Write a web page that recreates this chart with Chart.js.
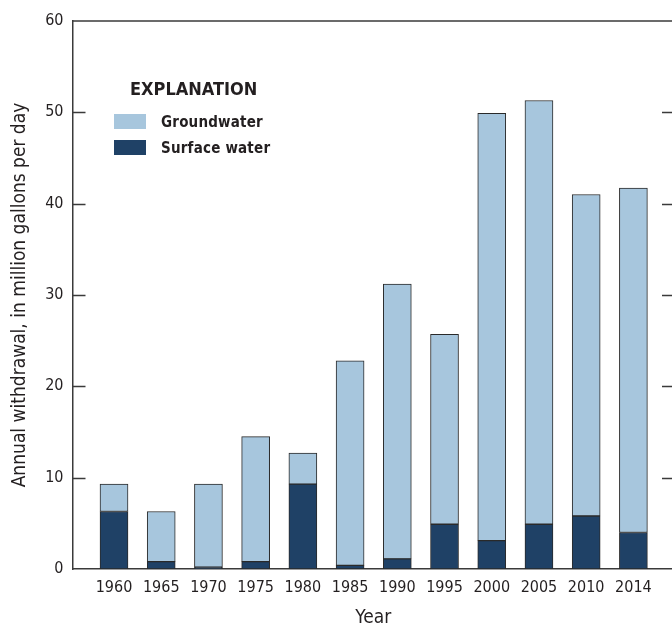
<!DOCTYPE html>
<html>
<head>
<meta charset="utf-8">
<script src="https://cdn.jsdelivr.net/npm/chart.js@4.4.1/dist/chart.umd.min.js"></script>
<style>
  html, body { margin: 0; padding: 0; background: #fff; overflow: hidden; }
  #wrap { position: relative; width: 672px; height: 626px; overflow: hidden; }
  #wrap canvas { position: absolute; left: 0; top: 0; }
</style>
</head>
<body>
<div id="wrap"><canvas id="c" width="674" height="626"></canvas></div>
<script>
const years = ['1960','1965','1970','1975','1980','1985','1990','1995','2000','2005','2010','2014'];
const surfaceWater = [6.3, 0.8, 0.2, 0.8, 9.3, 0.4, 1.1, 4.9, 3.1, 4.9, 5.8, 4.0];
const groundwater  = [3.0, 5.5, 9.1, 13.7, 3.4, 22.4, 30.1, 20.8, 46.8, 46.4, 35.2, 37.7];
const yTicks = [0, 10, 20, 30, 40, 50, 60];
const seriesNames = ['Surface water', 'Groundwater'];
const legendTitle = 'EXPLANATION';
const yTitle = 'Annual withdrawal, in million gallons per day';
const xTitle = 'Year';

const FONT = '"Liberation Sans Narrow", "DejaVu Sans Condensed", "Arial Narrow", sans-serif';
const LIGHT = '#a7c6dd';
const DARK = '#1f4166';
const EDGE = '#2a2a2a';
const AXIS = '#3a3a3a';
const TEXT = '#231f20';

const framePlugin = {
  id: 'frame',
  afterDatasetsDraw(chart) {
    const { ctx, chartArea: a, scales } = chart;
    const y = scales.y;
    ctx.save();
    ctx.strokeStyle = AXIS;
    ctx.lineWidth = 1.5;
    ctx.beginPath();
    ctx.moveTo(a.left, a.top);
    ctx.lineTo(a.right + 10, a.top);
    ctx.stroke();
    yTicks.forEach(v => {
      if (v === 0 || v === 60) return;
      const py = Math.round(y.getPixelForValue(v)) + 0.5;
      ctx.beginPath();
      ctx.moveTo(a.left, py); ctx.lineTo(a.left + 13, py);
      ctx.moveTo(a.right - 12, py); ctx.lineTo(a.right + 10, py);
      ctx.stroke();
    });
    ctx.restore();
  },
  afterDraw(chart) {
    const { ctx } = chart;
    const ds = chart.data.datasets;
    ctx.save();
    ctx.fillStyle = TEXT;
    ctx.textBaseline = 'alphabetic';
    ctx.textAlign = 'left';
    ctx.font = 'bold 18px ' + FONT;
    ctx.fillText(legendTitle, 130, 95);
    const order = [1, 0];
    order.forEach((di, k) => {
      const top = 114 + k * 26;
      ctx.fillStyle = ds[di].backgroundColor;
      ctx.fillRect(114, top, 32, 15);
      ctx.fillStyle = TEXT;
      ctx.font = 'bold 15px ' + FONT;
      if ('letterSpacing' in ctx) ctx.letterSpacing = '0.2px';
      ctx.fillText(ds[di].label, 161, top + 13);
      if ('letterSpacing' in ctx) ctx.letterSpacing = '0px';
    });
    ctx.restore();
  }
};

const ctx = document.getElementById('c').getContext('2d');
new Chart(ctx, {
  type: 'bar',
  data: {
    datasets: [
      {
        label: seriesNames[0],
        data: surfaceWater.map((v, i) => ({ x: i, y: v })),
        backgroundColor: DARK,
        borderColor: EDGE,
        borderWidth: 1,
        borderSkipped: false,
        barThickness: 28,
        stack: 's'
      },
      {
        label: seriesNames[1],
        data: groundwater.map((v, i) => ({ x: i, y: v })),
        backgroundColor: LIGHT,
        borderColor: EDGE,
        borderWidth: 1,
        borderSkipped: false,
        barThickness: 28,
        stack: 's'
      }
    ]
  },
  options: {
    responsive: false,
    animation: false,
    layout: { padding: { left: 0, right: 0, top: 21, bottom: 0 } },
    plugins: {
      legend: { display: false },
      tooltip: { enabled: false }
    },
    scales: {
      x: {
        type: 'linear',
        stacked: true,
        offset: false,
        min: -0.879,
        max: 11.86,
        grid: { display: false, drawTicks: false },
        border: { display: true, color: AXIS, width: 1.5 },
        afterBuildTicks(scale) { scale.ticks = years.map((_, i) => ({ value: i })); },
        ticks: {
          padding: 9,
          color: TEXT,
          autoSkip: false,
          maxRotation: 0,
          font: { family: FONT, size: 16 },
          callback: (v) => (Number.isInteger(v) && years[v]) ? years[v] : ''
        },
        title: {
          display: true,
          text: xTitle,
          color: TEXT,
          font: { family: FONT, size: 19 },
          padding: { top: 10, bottom: -3 }
        },
        afterFit(scale) { scale.height = 57; }
      },
      y: {
        stacked: true,
        min: 0,
        max: 60,
        grid: { display: false, drawTicks: false },
        border: { display: true, color: AXIS, width: 1.5 },
        afterBuildTicks(scale) { scale.ticks = yTicks.map(v => ({ value: v })); },
        ticks: {
          padding: 9,
          color: TEXT,
          font: { family: FONT, size: 16 }
        },
        title: {
          display: true,
          text: yTitle,
          color: TEXT,
          font: { family: FONT, size: 19 },
          padding: { top: 9, bottom: 0 }
        },
        afterFit(scale) { scale.width = 72.5; }
      }
    }
  },
  plugins: [framePlugin]
});
</script>
</body>
</html>
